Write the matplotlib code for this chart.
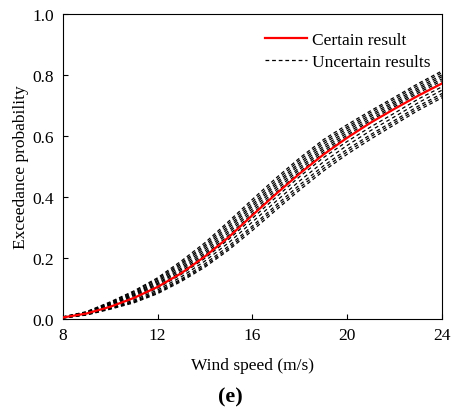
import matplotlib
matplotlib.use("Agg")
import matplotlib.pyplot as plt

plt.rcParams['font.family'] = ['Liberation Serif', 'DejaVu Serif']

wind = [8, 9, 10, 11, 12, 13, 14, 15, 16, 17, 18, 19, 20, 21, 22, 23, 24]

certain = [0.005, 0.018, 0.040, 0.069, 0.105, 0.150, 0.205, 0.268, 0.340,
           0.410, 0.477, 0.539, 0.594, 0.644, 0.689, 0.732, 0.772]

# uncertain results
uncertain = [
    [.007, .024, .056, .092, .135, .190, .250, .320, .392, .462, .528, .588, .637, .683, .727, .772, .813],
    [.007, .023, .054, .089, .131, .184, .243, .313, .384, .454, .521, .581, .630, .677, .721, .766, .807],
    [.006, .022, .052, .085, .126, .179, .237, .305, .376, .446, .513, .574, .624, .670, .714, .759, .800],
    [.006, .021, .050, .082, .122, .173, .230, .298, .369, .439, .506, .566, .617, .664, .708, .753, .794],
    [.006, .020, .048, .079, .117, .167, .223, .290, .361, .431, .498, .559, .610, .657, .702, .747, .787],
    [.006, .020, .046, .076, .113, .162, .216, .283, .353, .423, .491, .552, .603, .651, .696, .741, .781],
    [.005, .019, .043, .072, .108, .156, .210, .275, .345, .415, .483, .545, .597, .644, .689, .734, .774],
    [.005, .017, .040, .067, .101, .146, .199, .261, .330, .399, .467, .529, .582, .630, .675, .721, .761],
    [.004, .016, .038, .062, .095, .138, .190, .250, .318, .386, .453, .515, .569, .618, .663, .709, .750],
    [.004, .015, .035, .058, .090, .131, .181, .239, .305, .373, .440, .502, .556, .605, .651, .698, .739],
    [.003, .014, .034, .056, .086, .127, .175, .232, .298, .365, .431, .493, .548, .598, .644, .691, .732],
    [.003, .013, .032, .053, .083, .123, .170, .226, .290, .357, .423, .485, .540, .590, .637, .684, .725],
]

x_ticks = [8, 12, 16, 20, 24]
y_ticks = [0.0, 0.2, 0.4, 0.6, 0.8, 1.0]

fig = plt.figure(figsize=(4.51, 4.14), dpi=100)
ax = fig.add_axes([0.139, 0.227, 0.841, 0.737])

for i, ys in enumerate(uncertain):
    ax.plot(wind, ys, color='black', lw=0.9, linestyle=(0, (3, 2.3)),
            label='Uncertain results' if i == 0 else None)
ax.plot(wind, certain, color='red', lw=1.6, label='Certain result', zorder=5)

ax.set_xlim(8, 24)
ax.set_ylim(0, 1.0)
ax.set_xticks(x_ticks)
ax.set_yticks(y_ticks)
ax.set_yticklabels([f"{v:.1f}" for v in y_ticks])
ax.tick_params(axis='x', direction='in', length=3.6, width=0.8, labelsize=12.5, pad=6)
ax.tick_params(axis='y', direction='in', length=3.6, width=0.8, labelsize=12.5, pad=6)
for s in ax.spines.values():
    s.set_linewidth(0.8)

ax.set_xlabel("Wind speed (m/s)", fontsize=12.5, labelpad=10)
ax.set_ylabel("Exceedance probability", fontsize=12.5, labelpad=3)

handles, labels = ax.get_legend_handles_labels()
order = [1, 0]
ax.legend([handles[k] for k in order], [labels[k] for k in order],
          loc='upper left', bbox_to_anchor=(0.533, 0.94), frameon=False,
          fontsize=12.5, handlelength=2.4, handletextpad=0.3,
          labelspacing=0.32, borderpad=0, borderaxespad=0)

fig.text(0.51, 0.04, "(e)", ha='center', va='center', fontsize=16,
         fontweight='bold')

fig.savefig("out.png", dpi=100)
